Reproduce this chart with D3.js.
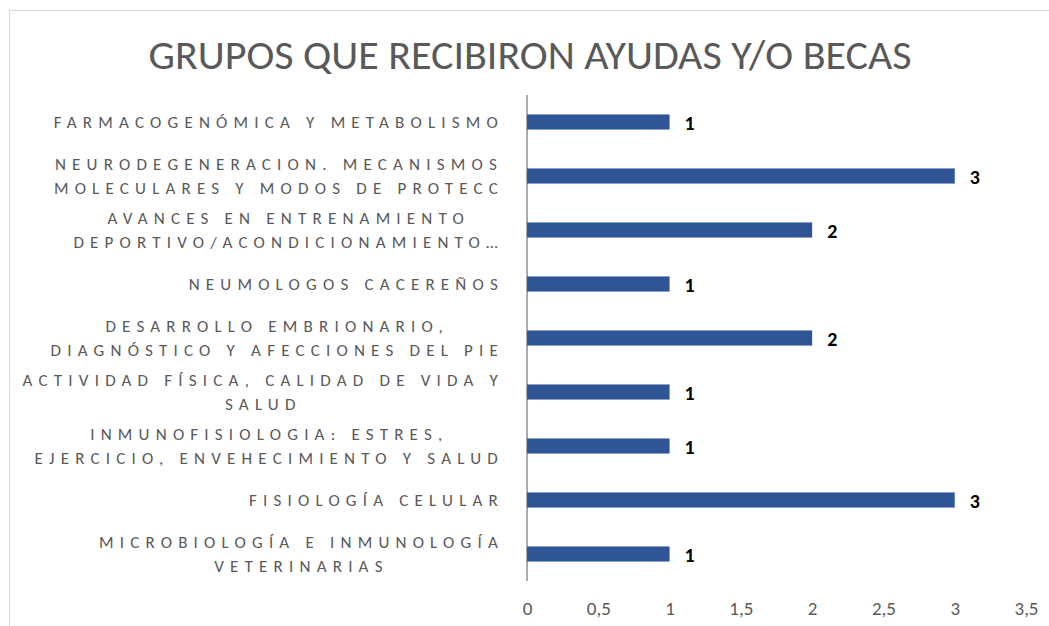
<!DOCTYPE html>
<html>
<head>
<meta charset="utf-8">
<script src="https://cdn.jsdelivr.net/npm/d3@7"></script>
<style>
  body { margin: 0; background: #fff; }
  svg { display: block; }
</style>
</head>
<body>
<svg id="chart"></svg>
<script>
const width = 1049;
const height = 626;

// categories, top to bottom, already split into the lines shown on the chart
const groupLabels = [
  ["FARMACOGENÓMICA Y METABOLISMO"],
  ["NEURODEGENERACION. MECANISMOS", "MOLECULARES Y MODOS DE PROTECC"],
  ["AVANCES EN ENTRENAMIENTO", "DEPORTIVO/ACONDICIONAMIENTO…"],
  ["NEUMOLOGOS CACEREÑOS"],
  ["DESARROLLO EMBRIONARIO,", "DIAGNÓSTICO Y AFECCIONES DEL PIE"],
  ["ACTIVIDAD FÍSICA, CALIDAD DE VIDA Y", "SALUD"],
  ["INMUNOFISIOLOGIA: ESTRES,", "EJERCICIO, ENVEHECIMIENTO Y SALUD"],
  ["FISIOLOGÍA CELULAR"],
  ["MICROBIOLOGÍA E INMUNOLOGÍA", "VETERINARIAS"]
];
const groupValues = [1, 3, 2, 1, 2, 1, 1, 3, 1];
const xTicks = [0, 0.5, 1, 1.5, 2, 2.5, 3, 3.5];

const data = groupLabels.map((lines, i) => ({ id: i, lines: lines, value: groupValues[i] }));

const margin = { top: 95, right: 23, bottom: 45, left: 527 };
const fontStack = "Carlito, Lato, 'Open Sans', sans-serif";

const svg = d3.select("#chart")
  .attr("width", width)
  .attr("height", height);

// chart area border
svg.append("rect")
  .attr("x", 9.5)
  .attr("y", 10.5)
  .attr("width", width + 20)
  .attr("height", height + 20)
  .attr("fill", "#fff")
  .attr("stroke", "#d9d9d9");

// Title
svg.append("text")
  .attr("x", 530)
  .attr("y", 69)
  .attr("text-anchor", "middle")
  .style("font-family", fontStack)
  .style("font-weight", 300)
  .style("font-size", "42px")
  .style("fill", "#595959")
  .text("GRUPOS QUE RECIBIRON AYUDAS Y/O BECAS");

const x = d3.scaleLinear()
  .domain([0, 3.5])
  .range([margin.left, width - margin.right]);

const y = d3.scaleBand()
  .domain(data.map(d => d.id))
  .range([margin.top, height - margin.bottom])
  .paddingInner(0.72)
  .paddingOuter(0.36);

// bars
svg.append("g")
  .selectAll("rect")
  .data(data)
  .enter()
  .append("rect")
  .attr("x", x(0))
  .attr("y", d => y(d.id))
  .attr("width", d => x(d.value) - x(0))
  .attr("height", y.bandwidth())
  .attr("fill", "#2f5597");

// value labels
svg.append("g")
  .selectAll("text")
  .data(data)
  .enter()
  .append("text")
  .attr("x", d => x(d.value) + 15)
  .attr("y", d => y(d.id) + y.bandwidth() / 2)
  .attr("dy", "0.38em")
  .style("font-family", fontStack)
  .style("font-weight", "bold")
  .style("font-size", "20px")
  .style("fill", "#000")
  .text(d => d.value);

// x axis (labels only, no line)
const xAxis = svg.append("g")
  .attr("transform", `translate(0, ${height - margin.bottom})`)
  .call(d3.axisBottom(x)
    .tickValues(xTicks)
    .tickSize(0)
    .tickPadding(21)
    .tickFormat(d => String(d).replace(".", ",")));
xAxis.select(".domain").remove();
xAxis.selectAll("text")
  .style("font-family", fontStack)
  .style("font-size", "19px")
  .style("fill", "#595959");

// vertical category axis line
svg.append("line")
  .attr("x1", x(0))
  .attr("x2", x(0))
  .attr("y1", margin.top)
  .attr("y2", height - margin.bottom)
  .attr("stroke", "#595959")
  .attr("stroke-width", 1);

// category labels, lines centred on each other, right edge at labelRight
const labelRight = 504;
const lineGap = 24;
const labels = svg.append("g")
  .selectAll("text")
  .data(data)
  .enter()
  .append("text")
  .attr("text-anchor", "middle")
  .style("font-family", fontStack)
  .style("font-size", "17px")
  .style("letter-spacing", "6.2px")
  .style("fill", "#595959");

labels.each(function(d) {
  const t = d3.select(this);
  const cy = y(d.id) + y.bandwidth() / 2;
  const top = cy - (d.lines.length - 1) * lineGap / 2;
  d.lines.forEach((line, i) => {
    t.append("tspan")
      .attr("y", top + i * lineGap)
      .attr("dy", "0.36em")
      .text(line);
  });
  let maxW = 0;
  t.selectAll("tspan").each(function() {
    maxW = Math.max(maxW, this.getComputedTextLength());
  });
  t.selectAll("tspan").attr("x", labelRight - maxW / 2);
});
</script>
</body>
</html>
